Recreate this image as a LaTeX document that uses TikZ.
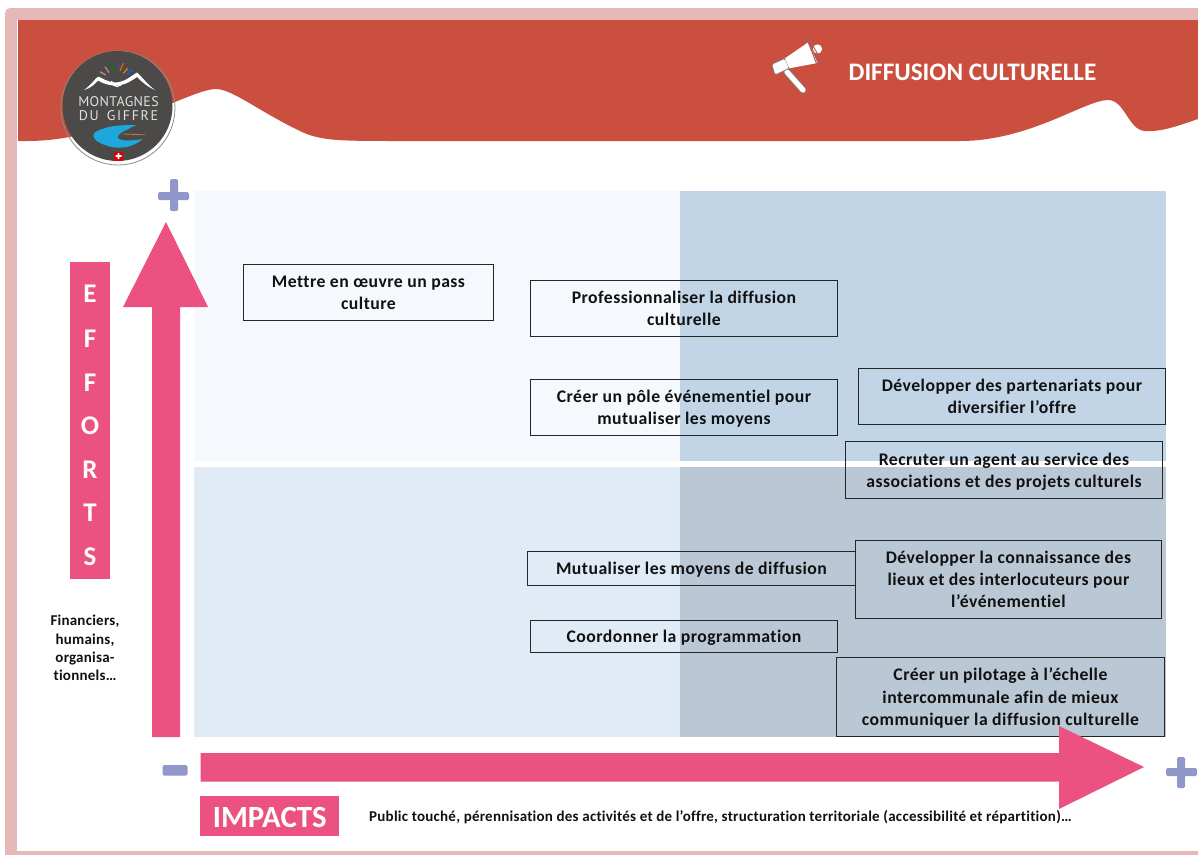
\documentclass[tikz,border=0pt]{standalone}
\usepackage{fontspec}
\setmainfont{Carlito}[Ligatures=NoCommon]
\newfontfamily\boxfont{Carlito}[LetterSpace=2.6,Ligatures=NoCommon]
\newfontfamily\notefont{Carlito}[LetterSpace=1.6,Ligatures=NoCommon]
\newfontfamily\logoa{PT Sans}[LetterSpace=2.5]
\newfontfamily\logob{PT Sans}[LetterSpace=12,WordSpace=1.5]
\definecolor{framec}{HTML}{E6B8B7}
\definecolor{headc}{HTML}{CB4F3E}
\definecolor{pinkc}{HTML}{EC5281}
\definecolor{plusc}{HTML}{8F97CB}
\definecolor{qa}{HTML}{F5F9FD}
\definecolor{qb}{HTML}{C1D5E7}
\definecolor{qc}{HTML}{E1EBF5}
\definecolor{qd}{HTML}{BAC7D4}
\definecolor{logoc}{HTML}{4C4A48}
\definecolor{swoosh}{HTML}{1FA6DC}
\definecolor{txt}{HTML}{111111}
\tikzset{
  actionbox/.style={draw=black!85,line width=0.9pt,rectangle,anchor=north west,inner sep=0pt,align=center,
    font=\boxfont\fontsize{17.7}{22.2}\selectfont\bfseries,text=txt},
  pinktag/.style={fill=pinkc,inner sep=0pt,text=white,font=\bfseries},
  letter/.style={text=white,font=\fontsize{27}{27}\selectfont\bfseries,inner sep=0pt},
  note/.style={font=\notefont\fontsize{15}{18.3}\selectfont\bfseries,text=txt,align=center,inner sep=0pt},
  logotxt/.style={text=white!88!black,inner sep=0pt},
  outline/.style={draw=gray,line width=0.8pt,line join=round},
}
\newcommand{\actbox}[6]{\node[actionbox,minimum width=#4pt-#2pt,minimum height=#5pt-#3pt] (#1) at (#2,#3) {\raisebox{0pt}[\dimexpr\height+3.5pt\relax][\depth]{\begin{tabular}{@{}c@{}}#6\end{tabular}}};}
\begin{document}
\begin{tikzpicture}[x=1pt,y=-1pt]
\useasboundingbox (0,0) rectangle (1198,854);
% frame
\fill[framec,rounded corners=5pt] (5,8) rectangle (1215,870);
\fill[white] (17,20) rectangle (1215,851);
% header
\fill[headc] (18,20) -- (1198,20) -- (1198,119)
  .. controls (1175,127) and (1160,132) .. (1145,131)
  .. controls (1128,130) and (1125,100) .. (1108,100)
  .. controls (1085,100) and (1030,141) .. (960,141)
  -- (400,141)
  .. controls (340,141) and (320,141) .. (300,131)
  .. controls (260,112) and (232,89) .. (216,89)
  .. controls (190,89) and (110,141) .. (28,141)
  -- (18,141) -- cycle;
% logo
\node[circle,draw=gray!90,line width=0.8pt,minimum size=114pt,inner sep=0pt] (logo) at (118,108) {};
\node[circle,fill=logoc,minimum size=110pt,inner sep=0pt] (logoin) at (117.5,106) {};
\fill[white,line join=round] (84,90) .. controls (91,85) and (94,80) .. (98,76.5)
  .. controls (103,78) and (106,82) .. (116,82.5) .. controls (125,82) and (131,76) .. (137,72.5)
  .. controls (143,78) and (148,85) .. (155,90)
  .. controls (146,86) and (141,81) .. (137,77) .. controls (131,81) and (126,85) .. (116,85.5)
  .. controls (108,85.5) and (102,83) .. (98,80.5) .. controls (95,84) and (91,88) .. (84,90) -- cycle;
\draw[white,line width=1.3pt] (111.5,81) arc (180:0:5.5);
\foreach \c/\xa/\ya/\xb/\yb in {green!50!black/98.3/75.7/104.3/77.3,magenta!60/100/71.7/105.7/75,gray!80/105/66.7/109/72.7,green!50!black/111.7/63.3/113.3/71,blue!50!gray/118.3/61.7/117.7/70,orange!85!black/123.3/63.3/120/71,orange!60!brown/127.7/68.3/123.3/73.3,blue!60!cyan/132.3/70/126.7/74.3}
  \draw[\c,line width=1.2pt] (\xa,\ya) -- (\xb,\yb);
\node[logotxt,font=\logoa\fontsize{14}{15}\selectfont] (logot1) at (118.5,101.7) {MONTAGNES};
\node[logotxt,font=\logob\fontsize{14}{15}\selectfont] (logot2) at (118.5,116) {DU GIFFRE};
\fill[swoosh] (136.7,125) .. controls (120,125) and (109,126) .. (105,128.3)
  .. controls (97,130) and (93,133) .. (93.3,135.7) .. controls (94,140) and (99,143) .. (105,145)
  .. controls (110,147) and (116,148) .. (121.7,147.7) .. controls (128,147.5) and (133,145) .. (136.7,143.3)
  .. controls (139,142) and (141,140.5) .. (142.3,139) .. controls (135,140.5) and (127,141) .. (121.7,140)
  .. controls (118,139) and (116.5,137) .. (118.3,135.7) .. controls (120,133) and (124,131) .. (126.7,130)
  .. controls (130,128) and (133,126) .. (136.7,125) -- cycle;
\draw[gray!60!orange,line width=0.8pt] (123.3,134) -- (145,134.8);
\fill[red!85!black] (114,151.5) rectangle (123,160.5);
\fill[white] (117.7,153) rectangle (119.3,159) (115.5,155.2) rectangle (121.5,156.8);
% megaphone
\draw[gray,line width=7pt,line cap=round] (787,72) -- (803,90);
\draw[white,line width=5.2pt,line cap=round] (787,72) -- (803,90);
\fill[white] (817.5,49) circle (4.6);
\draw[outline,fill=white,rounded corners=1.5pt] (771.7,64.3) -- (785,58.3) -- (789.3,68.3) -- (775,75) -- cycle;
\fill[white] (785,58.3) -- (808,42.5) -- (817.5,63) -- (789.3,68.3) -- cycle;
\draw[gray!75!red,line width=0.9pt,line join=round] (806.5,35) -- (823,63) -- (816.5,63.5) -- (808,42) -- cycle;
% quadrants
\fill[qa] (194,191) rectangle (680,461);
\fill[qb] (680,191) rectangle (1166,461);
\fill[qc] (194,467) rectangle (680,737);
\fill[qd] (680,467) rectangle (1166,737);
% title
\node[text=white,font=\fontsize{25.2}{28}\selectfont\bfseries,inner sep=0pt] (title) at (972.5,72) {DIFFUSION CULTURELLE};
% boxes
\actbox{b1}{243}{264}{493}{320}{Mettre en œuvre un pass\\culture}
\actbox{b2}{530}{280}{837}{336}{Professionnaliser la diffusion\\culturelle}
\actbox{b3}{530}{379}{837}{435}{Créer un pôle événementiel pour\\mutualiser les moyens}
\actbox{b4}{858}{368}{1165}{424}{Développer des partenariats pour\\diversifier l’offre}
\actbox{b5}{845}{441}{1162}{498}{Recruter un agent au service des\\associations et des projets culturels}
\actbox{b6}{527}{551}{855}{585}{Mutualiser les moyens de diffusion}
\actbox{b7}{855}{540}{1161}{618}{Développer la connaissance des\\lieux et des interlocuteurs pour\\l’événementiel}
\actbox{b8}{530}{620}{837}{652}{Coordonner la programmation}
\actbox{b9}{836}{657}{1164}{736}{Créer un pilotage à l’échelle\\intercommunale afin de mieux\\communiquer la diffusion culturelle}
% arrows
\fill[pinkc] (152,737) -- (152,307) -- (123,307) -- (166,222) -- (208,307) -- (180,307) -- (180,737) -- cycle;
\fill[pinkc] (200.5,753) -- (1059,753) -- (1059,726) -- (1144,767) -- (1059,809) -- (1059,781.5) -- (200.5,781.5) -- cycle;
% plus and minus
\fill[plusc,rounded corners=1.5pt] (158,192) rectangle (189,200);
\fill[plusc,rounded corners=1.5pt] (170,179) rectangle (178,211);
\fill[plusc,rounded corners=1.5pt] (1166,768) rectangle (1197,776);
\fill[plusc,rounded corners=1.5pt] (1177,757) rectangle (1185,788);
\fill[plusc,rounded corners=1.5pt] (162.5,765) rectangle (187.5,775.5);
% efforts tag
\node[pinktag,anchor=north west,minimum width=40pt,minimum height=317pt] (efforts) at (70,262) {};
\node[letter] (e1) at (90,294) {E};
\node[letter] (e2) at (90,339) {F};
\node[letter] (e3) at (90,383) {F};
\node[letter] (e4) at (90,426) {O};
\node[letter] (e5) at (90,470) {R};
\node[letter] (e6) at (90,513) {T};
\node[letter] (e7) at (90,557) {S};
\node[note] (n1) at (85,648) {Financiers,\\humains,\\organisa-\\tionnels…};
% impacts
\node[pinktag,anchor=north west,minimum width=139pt,minimum height=40pt] (impacts) at (200,796) {\raisebox{0pt}[\dimexpr\height+3.5pt\relax][\depth]{\fontsize{30.8}{32}\selectfont\bfseries IMPACTS}};
\node[note,anchor=west] (n2) at (369,817) {Public touché, pérennisation des activités et de l’offre, structuration territoriale (accessibilité et répartition)…};
\end{tikzpicture}
\end{document}
